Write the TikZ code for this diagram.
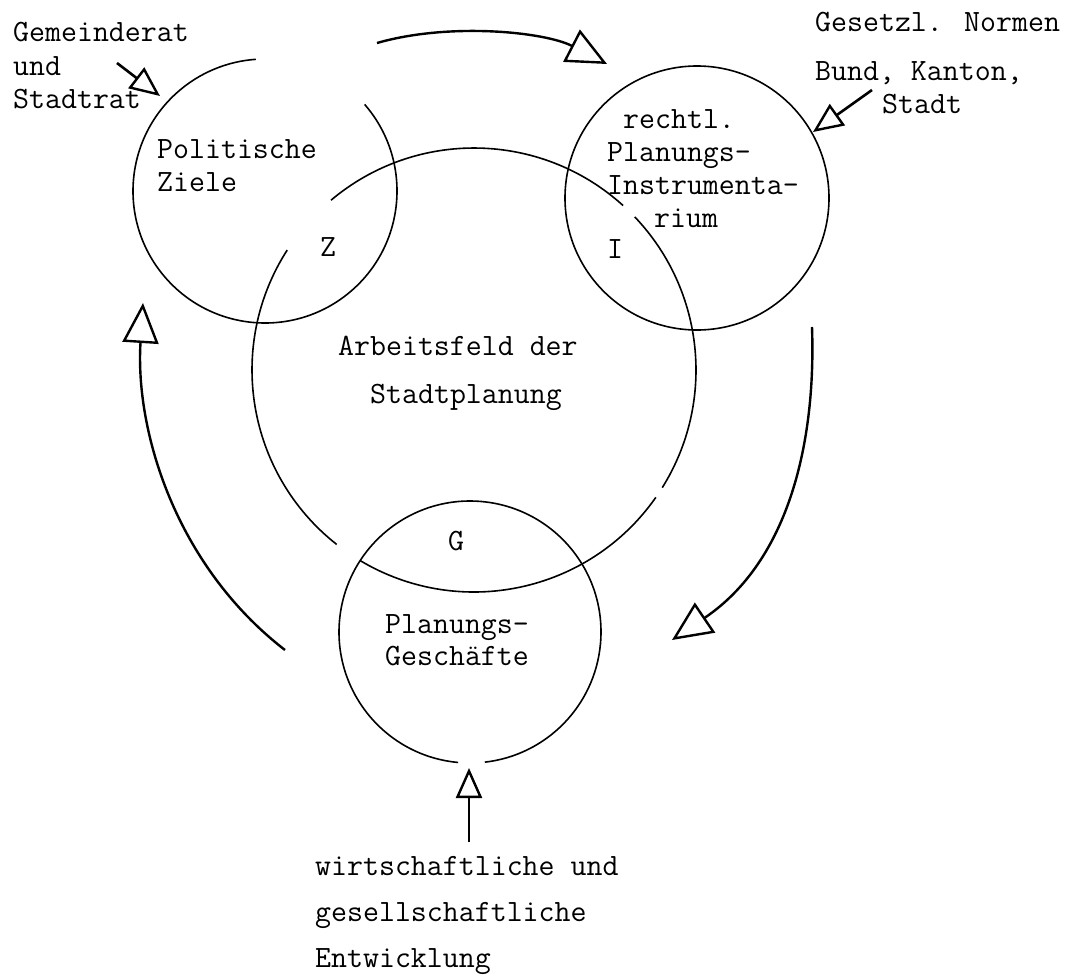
\documentclass[tikz,border=0pt]{standalone}
\usepackage{fontspec}
\usetikzlibrary{arrows.meta}
\tikzset{
  lbl/.style={anchor=base west, inner sep=0pt, font=\fontsize{31}{33}\selectfont\ttfamily},
  ring/.style={line width=1.6pt},
  flowarrow/.style={line width=2.4pt, -{Triangle[open, length=40pt, width=36pt, line width=2.4pt]}},
  pointer/.style={line width=2.6pt, -{Triangle[open, length=30pt, width=26pt, line width=2.4pt]}},
}
\begin{document}
\begin{tikzpicture}[x=1pt,y=-1pt]
\useasboundingbox (0,0) rectangle (1069,975);
% centres
\coordinate (cA) at (474,370);
\coordinate (cZ) at (265,191);
\coordinate (cI) at (697,198);
\coordinate (cG) at (470,632);
% big circle (Arbeitsfeld), drawn in four arcs with small gaps
\draw[ring] ([shift={(-130.1:222)}]cA) arc[start angle=-130.1, end angle=-47.8, radius=222];
\draw[ring] ([shift={(-231.8:222)}]cA) arc[start angle=-231.8, end angle=-147.3, radius=222];
\draw[ring] ([shift={(-325:222)}]cA) arc[start angle=-325, end angle=-239.2, radius=222];
\draw[ring] ([shift={(-403.6:222)}]cA) arc[start angle=-403.6, end angle=-328, radius=222];
% Politische Ziele circle
\draw[ring] ([shift={(-41:132)}]cZ) arc[start angle=-41, end angle=266, radius=132];
% rechtl. Planungs-Instrumentarium circle
\draw[ring] (cI) circle[radius=132];
% Planungs-Geschaefte circle
\draw[ring] ([shift={(95.2:131)}]cG) arc[start angle=95.2, end angle=443.5, radius=131];
% cycle arrows
\coordinate (tA1) at (377,43);  \coordinate (tA2) at (607,64);
\draw[flowarrow] (tA1) .. controls (450,22) and (545,32) .. (tA2);
\coordinate (rA1) at (812,327); \coordinate (rA2) at (672,640);
\draw[flowarrow] (rA1) .. controls (816,440) and (790,560) .. (rA2);
\coordinate (lA1) at (285,650); \coordinate (lA2) at (143,303);
\draw[flowarrow] (lA1) .. controls (175,565) and (135,430) .. (lA2);
% input pointers
\coordinate (pZ1) at (117,63);  \coordinate (pZ2) at (160,96);
\draw[pointer] (pZ1) -- (pZ2);
\coordinate (pI1) at (872,90);  \coordinate (pI2) at (813,132);
\draw[pointer] (pI1) -- (pI2);
\coordinate (pG1) at (469,842); \coordinate (pG2) at (469,768);
\draw[pointer] (pG1) -- (pG2);
% labels
\node[lbl] (gem1) at (13,41)  {Gemeinderat};
\node[lbl] (gem2) at (13,75)  {und};
\node[lbl] (gem3) at (13,108) {Stadtrat};
\node[lbl] (pol1) at (157,158) {Politische};
\node[lbl] (pol2) at (157,191) {Ziele};
\node[lbl] (rec1) at (623,128) {rechtl.};
\node[lbl] (rec2) at (607,161) {Planungs-};
\node[lbl] (rec3) at (607,194) {Instrumenta-};
\node[lbl] (rec4) at (654,227) {rium};
\node[lbl] (lz) at (320,256) {Z};
\node[lbl] (li) at (607,258) {I};
\node[lbl] (lg) at (448,550) {G};
\node[lbl] (arb1) at (338,355) {Arbeitsfeld der};
\node[lbl] (arb2) at (370,403) {Stadtplanung};
\node[lbl] (ges1) at (815,31)  {Gesetzl. Normen};
\node[lbl] (ges2) at (815,80)  {Bund, Kanton,};
\node[lbl] (ges3) at (882,113) {Stadt};
\node[lbl] (pg1) at (385,633) {Planungs-};
\node[lbl] (pg2) at (385,665) {Geschäfte};
\node[lbl] (w1) at (315,875) {wirtschaftliche und};
\node[lbl] (w2) at (315,921) {gesellschaftliche};
\node[lbl] (w3) at (315,967) {Entwicklung};
\end{tikzpicture}
\end{document}
